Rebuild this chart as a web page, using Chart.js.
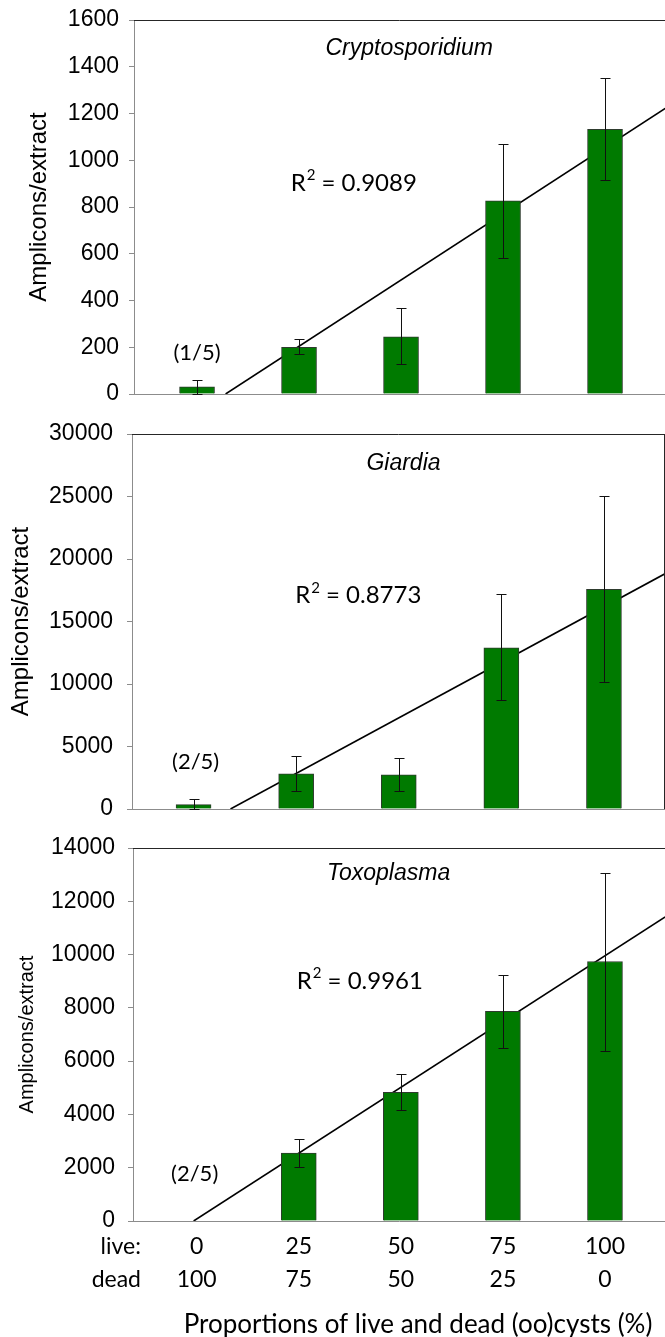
<!DOCTYPE html>
<html>
<head>
<meta charset="utf-8">
<script src="https://cdn.jsdelivr.net/npm/chart.js@4.4.0/dist/chart.umd.min.js"></script>
<style>
  body { margin: 0; background: #fff; }
  .panel { position: absolute; left: 0; width: 665px; }
</style>
</head>
<body>
<div class="panel" style="top:0;height:410px"><canvas id="crypto" width="665" height="410"></canvas></div>
<div class="panel" style="top:410px;height:415px"><canvas id="giardia" width="665" height="415"></canvas></div>
<div class="panel" style="top:825px;height:512px"><canvas id="toxo" width="665" height="512"></canvas></div>
<script>
// categories (index 0..4) and their two-row labels
const categories = [0, 1, 2, 3, 4];
const liveLabels = ['0', '25', '50', '75', '100'];
const deadLabels = ['100', '75', '50', '25', '0'];

// Cryptosporidium
const cryptoMean = [31, 200, 245, 826, 1132];
const cryptoErrHigh = [60, 234, 367, 1070, 1352];
const cryptoErrLow = [2, 170, 127, 580, 914];
const cryptoTrendX = [0.28, 4.59];
const cryptoTrendY = [0, 1222];

// Giardia
const giardiaMean = [350, 2820, 2740, 12900, 17570];
const giardiaErrHigh = [770, 4240, 4100, 17170, 25000];
const giardiaErrLow = [0, 1460, 1460, 8690, 10180];
const giardiaTrendX = [0.36, 4.6];
const giardiaTrendY = [0, 18840];

// Toxoplasma
const toxoMean = [0, 2550, 4830, 7870, 9740];
const toxoErrHigh = [null, 3090, 5500, 9250, 13050];
const toxoErrLow = [null, 2040, 4160, 6490, 6380];
const toxoTrendX = [-0.03, 4.59];
const toxoTrendY = [0, 11411];

const panelNames = ['Cryptosporidium', 'Giardia', 'Toxoplasma'];
const r2Values = ['0.9089', '0.8773', '0.9961'];
const positiveCounts = ['(1/5)', '(2/5)', '(2/5)'];

const ARIAL = 'Liberation Sans';
const CALIBRI = 'Lato';
const AXIS_GRAY = '#8c8c8c';

// plugin: frame lines, error bars, in-plot text
const extrasPlugin = {
    id: 'extras',
    afterDatasetsDraw(chart, args, opts) {
        const ctx = chart.ctx;
        const area = chart.chartArea;
        const xs = chart.scales.x;
        const ys = chart.scales.y;
        ctx.save();

        // top border (and right border for the middle panel)
        ctx.strokeStyle = '#262626';
        ctx.lineWidth = 1;
        ctx.beginPath();
        ctx.moveTo(area.left, area.top + 0.5);
        ctx.lineTo(area.right, area.top + 0.5);
        if (opts.rightBorder) {
            ctx.moveTo(area.right - 0.5, area.top);
            ctx.lineTo(area.right - 0.5, area.bottom);
        }
        ctx.stroke();

        // error bars
        ctx.strokeStyle = '#111';
        categories.forEach(i => {
            const hi = opts.errHigh[i], lo = opts.errLow[i];
            if (hi == null || lo == null) return;
            const x = Math.round(xs.getPixelForValue(i)) + 0.5;
            const yh = Math.round(ys.getPixelForValue(hi)) + 0.5;
            const yl = Math.round(ys.getPixelForValue(lo)) + 0.5;
            ctx.beginPath();
            ctx.moveTo(x, yh); ctx.lineTo(x, yl);
            ctx.moveTo(x - 5, yh); ctx.lineTo(x + 5, yh);
            ctx.moveTo(x - 5, yl); ctx.lineTo(x + 5, yl);
            ctx.stroke();
        });

        ctx.fillStyle = '#000';
        ctx.textBaseline = 'middle';

        // organism name
        ctx.font = 'italic 23px "' + ARIAL + '"';
        ctx.textAlign = 'center';
        ctx.fillText(opts.name, xs.getPixelForValue(opts.namePos[0]), ys.getPixelForValue(opts.namePos[1]));

        // (n/5)
        ctx.font = '22px ' + CALIBRI;
        ctx.fillText(opts.count, xs.getPixelForValue(opts.countPos[0]), ys.getPixelForValue(opts.countPos[1]));

        // R² = value
        let rx = xs.getPixelForValue(opts.r2Pos[0]);
        const ry = ys.getPixelForValue(opts.r2Pos[1]);
        ctx.textAlign = 'left';
        ctx.font = '24px ' + CALIBRI;
        ctx.fillText('R', rx, ry);
        rx += ctx.measureText('R').width + 1;
        ctx.font = '15px ' + CALIBRI;
        ctx.fillText('2', rx, ry - 8);
        rx += ctx.measureText('2').width;
        ctx.font = '24px ' + CALIBRI;
        ctx.fillText(' = ' + opts.r2, rx, ry);

        // row names and x title under the last panel
        if (opts.showXLabels) {
            ctx.font = '23px ' + CALIBRI;
            ctx.textAlign = 'right';
            ctx.fillText('live:', area.left + 8, area.bottom + 26);
            ctx.fillText('dead', area.left + 8, area.bottom + 59);
            ctx.font = '26px ' + CALIBRI;
            ctx.textAlign = 'center';
            ctx.fillText('Proportions of live and dead (oo)cysts (%)', area.left + 285, area.bottom + 104);
        }
        ctx.restore();
    }
};

function makePanel(canvasId, p) {
    const barData = categories.map(i => ({ x: i, y: p.mean[i] }));
    const trendData = p.trendX.map((x, k) => ({ x: x, y: p.trendY[k] }));
    return new Chart(document.getElementById(canvasId), {
        type: 'bar',
        data: {
            datasets: [
                {
                    type: 'bar',
                    data: barData,
                    backgroundColor: '#007a00',
                    borderColor: '#2e3b2e',
                    borderWidth: 1,
                    barThickness: 35,
                    order: 1
                },
                {
                    type: 'line',
                    data: trendData,
                    borderColor: '#000',
                    borderWidth: 1.6,
                    pointRadius: 0,
                    fill: false,
                    order: 2
                }
            ]
        },
        options: {
            responsive: false,
            animation: false,
            devicePixelRatio: 1,
            layout: { autoPadding: false, padding: { top: p.padTop, bottom: p.padBottom, left: 0, right: 0 } },
            plugins: {
                legend: { display: false },
                tooltip: { enabled: false },
                extras: p.extras
            },
            scales: {
                x: {
                    type: 'linear',
                    min: p.xMin,
                    max: p.xMax,
                    offset: false,
                    grid: { display: false, drawTicks: false },
                    border: { display: true, color: AXIS_GRAY, width: 1 },
                    afterBuildTicks: s => { s.ticks = categories.map(v => ({ value: v })); },
                    ticks: {
                        display: p.showXLabels,
                        autoSkip: false,
                        maxRotation: 0,
                        padding: 9,
                        color: '#000',
                        font: { family: CALIBRI, size: 23, lineHeight: 1.43 },
                        callback: v => [liveLabels[v], deadLabels[v]]
                    },
                    afterFit: s => {
                        s.height = p.xHeight;
                        s.paddingLeft = 0;
                        s.paddingRight = 0;
                    }
                },
                y: {
                    min: 0,
                    max: p.yMax,
                    ticks: {
                        stepSize: p.yStep,
                        padding: p.tickPad,
                        color: '#000',
                        font: { family: ARIAL, size: 23 },
                        callback: v => String(v)
                    },
                    grid: { display: true, drawOnChartArea: false, drawTicks: true, tickLength: 5, color: AXIS_GRAY },
                    border: { display: true, color: AXIS_GRAY, width: 1 },
                    title: {
                        display: true,
                        text: 'Amplicons/extract',
                        color: '#000',
                        font: { family: ARIAL, size: p.titleSize },
                        padding: { top: p.titlePad, bottom: 0 }
                    },
                    afterFit: s => {
                        s.width = p.axisLeft;
                        s.paddingTop = 0;
                        s.paddingBottom = 0;
                    }
                }
            }
        },
        plugins: [extrasPlugin]
    });
}

makePanel('crypto', {
    mean: cryptoMean, trendX: cryptoTrendX, trendY: cryptoTrendY,
    xMin: -0.618, xMax: 4.588, yMax: 1600, yStep: 200,
    padTop: 20, padBottom: 16, xHeight: 0, showXLabels: false,
    axisLeft: 134, tickPad: 10, titleSize: 24, titlePad: 25,
    extras: {
        errHigh: cryptoErrHigh, errLow: cryptoErrLow, rightBorder: false,
        name: panelNames[0], namePos: [2.08, 1476],
        count: positiveCounts[0], countPos: [0, 175],
        r2: r2Values[0], r2Pos: [0.918, 903],
        showXLabels: false
    }
});

makePanel('giardia', {
    mean: giardiaMean, trendX: giardiaTrendX, trendY: giardiaTrendY,
    xMin: -0.6, xMax: 4.595, yMax: 30000, yStep: 5000,
    padTop: 24, padBottom: 16, xHeight: 0, showXLabels: false,
    axisLeft: 132, tickPad: 14, titleSize: 24, titlePad: 7,
    extras: {
        errHigh: giardiaErrHigh, errLow: giardiaErrLow, rightBorder: true,
        name: panelNames[1], namePos: [2.046, 27600],
        count: positiveCounts[1], countPos: [0.02, 3800],
        r2: r2Values[1], r2Pos: [0.99, 17060],
        showXLabels: false
    }
});

makePanel('toxo', {
    mean: toxoMean, trendX: toxoTrendX, trendY: toxoTrendY,
    xMin: -0.624, xMax: 4.588, yMax: 14000, yStep: 2000,
    padTop: 23, padBottom: 0, xHeight: 116, showXLabels: true,
    axisLeft: 133, tickPad: 13, titleSize: 20, titlePad: 15,
    extras: {
        errHigh: toxoErrHigh, errLow: toxoErrLow, rightBorder: false,
        name: panelNames[2], namePos: [1.88, 13050],
        count: positiveCounts[2], countPos: [-0.02, 1750],
        r2: r2Values[2], r2Pos: [0.98, 9000],
        showXLabels: true
    }
});
</script>
</body>
</html>
